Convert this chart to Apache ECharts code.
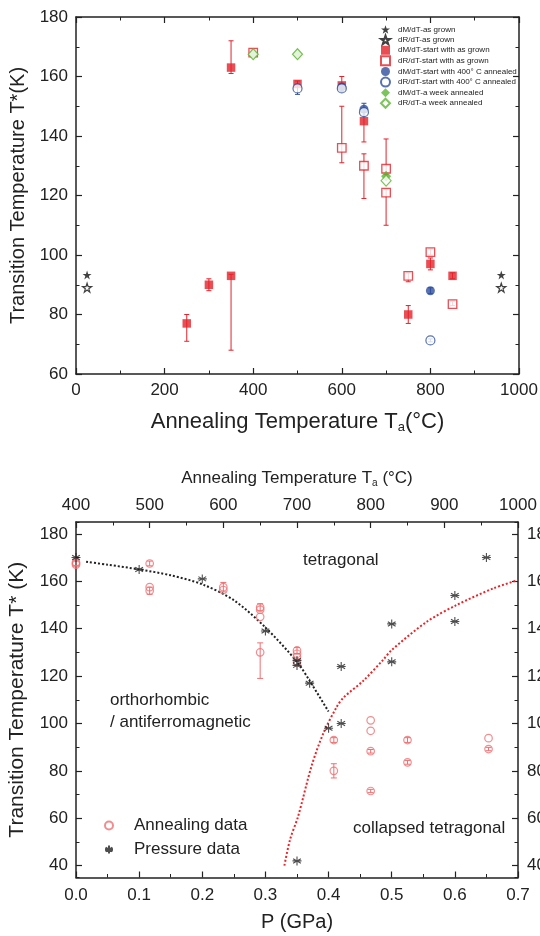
<!DOCTYPE html>
<html>
<head>
<meta charset="utf-8">
<script src="https://cdn.jsdelivr.net/npm/echarts@6/dist/echarts.min.js"></script>
<style>
  html, body { margin: 0; padding: 0; background: #fff; }
  #chart { width: 540px; height: 936px; }
</style>
</head>
<body>
<div id="chart"></div>
<script>
// ---------- Upper panel: transition temperature vs annealing temperature ----------
// points: [Ta (°C), T* (K)] ; with error bars: [Ta, T*, low, high]
const asGrownM = [[25, 93.3], [960, 93.3]];
const asGrownR = [[25, 89], [960, 89]];
const startAsGrownM = [
  [250, 77, 71, 80], [300, 90, 88, 92], [350, 93, 68, 93.5], [350, 163, 161, 172],
  [500, 157.5, 157, 158.5], [600, 157, 155, 160], [650, 145, 138, 148],
  [750, 80, 77, 83], [800, 97, 95, 99], [850, 93, 92, 94]
];
const startAsGrownR = [
  [400, 168, 167, 169], [600, 136, 131, 150], [650, 130, 119, 134],
  [700, 129, 127, 139], [700, 121, 110, 122], [750, 93, 91, 94],
  [800, 101, 100, 102], [850, 83.5, 83, 84.5]
];
const ann400M = [[600, 156.5, 155.5, 157.5], [650, 149, 148, 151], [800, 88, 87, 89]];
const ann400R = [[500, 156, 154, 157], [600, 156, 155, 157], [650, 148, 147, 149], [800, 71.3, 70.8, 71.8]];
const weekM = [[400, 167.5], [500, 167.5], [700, 126.5]];
const weekR = [[400, 167.5], [500, 167.5], [700, 125]];

const upperNames = [
  'dM/dT-as grown', 'dR/dT-as grown',
  'dM/dT-start with as grown', 'dR/dT-start with as grown',
  'dM/dT-start with 400° C annealed', 'dR/dT-start with 400° C annealed',
  'dM/dT-a week annealed', 'dR/dT-a week annealed'
];

// ---------- Lower panel: phase diagram ----------
// annealing data on the Ta (top) axis: [Ta, T*] or [Ta, T*, low, high]
const annealingData = [
  [400, 168, 166.5, 169], [400, 167.5], [400, 167],
  [500, 167.5, 166.5, 168.5], [500, 157.5], [500, 156, 154.5, 157.5],
  [600, 157.5, 155.5, 159.5], [600, 156.3],
  [650, 149, 147.5, 150.5], [650, 148], [650, 145], [650, 130, 119, 134],
  [700, 130.8, 129.5, 132], [700, 129.4], [700, 128], [700, 125.8],
  [750, 93, 92, 94], [750, 80, 77, 83],
  [800, 101.3], [800, 96.9], [800, 88.3, 87.5, 89], [800, 71.5, 70.8, 72.2],
  [850, 93, 92, 94], [850, 83.6, 82.8, 84.4],
  [960, 93.8], [960, 89.2, 88.5, 89.9]
];
// pressure data on the P (bottom) axis: [P (GPa), T* (K)]
const pressureData = [
  [0, 170], [0.1, 165], [0.2, 161], [0.3, 139], [0.35, 126.6], [0.35, 124.5],
  [0.35, 42], [0.37, 117], [0.4, 98], [0.42, 124], [0.42, 100],
  [0.5, 142], [0.5, 126], [0.6, 154], [0.6, 143], [0.65, 170]
];
// phase boundaries
const orthoBoundary = [
  [0.016, 168.2], [0.05, 167], [0.1, 165], [0.15, 162.5], [0.2, 158.7],
  [0.25, 152], [0.3, 140.5], [0.35, 126], [0.37, 118], [0.4, 105]
];
const collapsedBoundary = [
  [0.33, 40], [0.339, 51], [0.352, 61], [0.373, 82], [0.392, 96], [0.413, 107],
  [0.424, 111], [0.455, 118], [0.487, 127], [0.5, 131], [0.556, 143],
  [0.603, 150], [0.661, 157], [0.7, 160.5]
];

// tick ranges
const upperX = { min: 0, max: 1000, step: 200 };
const upperY = { min: 60, max: 180, step: 20 };
const lowerP = { min: 0, max: 0.7, step: 0.1 };
const lowerTa = { min: 400, max: 1000, step: 100 };
const lowerY = { min: 35, max: 185, step: 20 };

const FONT = '"Liberation Sans", Arial, sans-serif';
const INK = '#222';
const RED = '#e3222b';
const BLUE = '#2d4d9e';
const GREEN = '#5bb533';
const PINK = '#ef6f72';

const STAR = 'path://M50,0 L61.8,35.1 L98.1,35.1 L68.8,56.7 L79.4,91.6 L50,70 L20.6,91.6 L31.2,56.7 L1.9,35.1 L38.2,35.1 Z';
const ASTERISK = 'path://M5,0 L5,10 M0.7,2.5 L9.3,7.5 M0.7,7.5 L9.3,2.5 M0,5 L10,5';

const plain = v => String(v);

function errorBars(data, color, xi, yi, cap) {
  return {
    type: 'custom', xAxisIndex: xi, yAxisIndex: yi, silent: true, z: 1,
    data: data.filter(d => d.length > 2).map(d => [d[0], d[2], d[3]]),
    encode: { x: 0, y: [1, 2] },
    renderItem(params, api) {
      const lo = api.coord([api.value(0), api.value(1)]);
      const hi = api.coord([api.value(0), api.value(2)]);
      const st = { stroke: color, lineWidth: 1 };
      return {
        type: 'group', children: [
          { type: 'line', shape: { x1: lo[0], y1: lo[1], x2: hi[0], y2: hi[1] }, style: st },
          { type: 'line', shape: { x1: lo[0] - cap, y1: lo[1], x2: lo[0] + cap, y2: lo[1] }, style: st },
          { type: 'line', shape: { x1: hi[0] - cap, y1: hi[1], x2: hi[0] + cap, y2: hi[1] }, style: st }
        ]
      };
    }
  };
}

function scatter(name, data, xi, yi, symbol, size, style, z) {
  return {
    type: 'scatter', name, xAxisIndex: xi, yAxisIndex: yi,
    data: data.map(d => [d[0], d[1]]),
    symbol, symbolSize: size, itemStyle: style, z: z || 3, silent: true
  };
}

function valueAxis(extra) {
  return Object.assign({
    type: 'value',
    axisLine: { show: true, onZero: false, lineStyle: { color: INK, width: 1.5 } },
    axisTick: { show: true, inside: true, length: 6, lineStyle: { color: INK, width: 1.2 } },
    minorTick: { show: true, splitNumber: 2, length: 3.5, lineStyle: { color: INK, width: 1 } },
    splitLine: { show: false },
    axisLabel: { show: true, color: INK, fontSize: 17, fontFamily: FONT, margin: 8, formatter: plain },
    nameTextStyle: { color: INK, fontFamily: FONT }
  }, extra);
}

const chart = echarts.init(document.getElementById('chart'), null, { renderer: 'canvas' });

const option = {
  backgroundColor: '#fff',
  animation: false,
  textStyle: { fontFamily: FONT },
  grid: [
    { left: 76, right: 21, top: 17, height: 357, outerBoundsMode: 'none', containLabel: false },
    { left: 76, right: 22, top: 522, height: 355.5, outerBoundsMode: 'none', containLabel: false }
  ],
  xAxis: [
    valueAxis({
      gridIndex: 0, position: 'bottom', min: upperX.min, max: upperX.max, interval: upperX.step,
      name: '{m|Annealing Temperature T}{s|a}{m|(°C)}', nameLocation: 'middle', nameGap: 36,
      nameTextStyle: { rich: {
        m: { fontSize: 22, color: INK, fontFamily: FONT },
        s: { fontSize: 13, color: INK, fontFamily: FONT, padding: [11, 0, 0, 0] }
      } }
    }),
    valueAxis({
      gridIndex: 0, position: 'top', min: upperX.min, max: upperX.max, interval: upperX.step,
      axisLabel: { show: false }
    }),
    valueAxis({
      gridIndex: 1, position: 'bottom', min: lowerP.min, max: lowerP.max, interval: lowerP.step,
      axisLabel: { show: true, color: INK, fontSize: 17, fontFamily: FONT, margin: 9,
        formatter: v => v.toFixed(1) },
      name: 'P (GPa)', nameLocation: 'middle', nameGap: 35,
      nameTextStyle: { fontSize: 20, color: INK, fontFamily: FONT }
    }),
    valueAxis({
      gridIndex: 1, position: 'top', min: lowerTa.min, max: lowerTa.max, interval: lowerTa.step,
      axisLabel: { show: true, color: INK, fontSize: 17, fontFamily: FONT, margin: 8, formatter: plain },
      name: '{m|Annealing Temperature T}{s|a}{m| (°C)}', nameLocation: 'middle', nameGap: 34,
      nameTextStyle: { rich: {
        m: { fontSize: 17, color: INK, fontFamily: FONT },
        s: { fontSize: 10, color: INK, fontFamily: FONT, padding: [9, 0, 0, 0] }
      } }
    })
  ],
  yAxis: [
    valueAxis({
      gridIndex: 0, position: 'left', min: upperY.min, max: upperY.max, interval: upperY.step,
      name: 'Transition Temperature T*(K)', nameLocation: 'middle', nameGap: 46,
      nameTextStyle: { fontSize: 20, color: INK, fontFamily: FONT }
    }),
    valueAxis({
      gridIndex: 0, position: 'right', min: upperY.min, max: upperY.max, interval: upperY.step,
      axisLabel: { show: false }
    }),
    valueAxis({
      gridIndex: 1, position: 'left', min: lowerY.min, max: lowerY.max,
      minInterval: lowerY.step, maxInterval: lowerY.step, splitNumber: 7,
      minorTick: { show: false },
      axisLabel: { show: true, color: INK, fontSize: 17, fontFamily: FONT, margin: 8,
        showMinLabel: false, showMaxLabel: false, formatter: plain },
      name: 'Transition Temperature T* (K)', nameLocation: 'middle', nameGap: 48,
      nameTextStyle: { fontSize: 21, color: INK, fontFamily: FONT }
    }),
    valueAxis({
      gridIndex: 1, position: 'right', min: lowerY.min, max: lowerY.max,
      minInterval: lowerY.step, maxInterval: lowerY.step, splitNumber: 7,
      minorTick: { show: false },
      axisLabel: { show: true, color: INK, fontSize: 17, fontFamily: FONT, margin: 9,
        showMinLabel: false, showMaxLabel: false, formatter: plain }
    }),
    // half-step ticks on the lower panel's left and right edges
    valueAxis({
      gridIndex: 1, position: 'left', min: lowerY.min, max: lowerY.max,
      minInterval: lowerY.step / 2, maxInterval: lowerY.step / 2, splitNumber: 15,
      axisLine: { show: false }, axisLabel: { show: false }, minorTick: { show: false },
      axisTick: { show: true, inside: true, length: 3.5, lineStyle: { color: INK, width: 1 } }
    }),
    valueAxis({
      gridIndex: 1, position: 'right', min: lowerY.min, max: lowerY.max,
      minInterval: lowerY.step / 2, maxInterval: lowerY.step / 2, splitNumber: 15,
      axisLine: { show: false }, axisLabel: { show: false }, minorTick: { show: false },
      axisTick: { show: true, inside: true, length: 3.5, lineStyle: { color: INK, width: 1 } }
    })
  ],
  legend: [
    {
      left: 375, top: 20, orient: 'vertical', itemWidth: 9, itemHeight: 9, itemGap: 0.6,
      textStyle: { fontSize: 8, color: INK, fontFamily: FONT, lineHeight: 9, padding: [0, 0, 0, 3] },
      data: upperNames, selectedMode: false
    },
    {
      left: 99, top: 811, orient: 'vertical', itemWidth: 8, itemHeight: 8, itemGap: 5,
      textStyle: { fontSize: 17, color: INK, fontFamily: FONT, lineHeight: 19, padding: [0, 0, 0, 16] },
      data: ['Annealing data', 'Pressure data'], selectedMode: false
    }
  ],
  graphic: [
    { type: 'text', left: 303, top: 552, style: { text: 'tetragonal', fontSize: 17, fontFamily: FONT, fill: INK } },
    { type: 'text', left: 110, top: 690, style: { text: 'orthorhombic\n/ antiferromagnetic', fontSize: 17, lineHeight: 21.5, fontFamily: FONT, fill: INK } },
    { type: 'text', left: 353, top: 820, style: { text: 'collapsed tetragonal', fontSize: 17, fontFamily: FONT, fill: INK } }
  ],
  series: [
    // upper panel error bars
    errorBars(startAsGrownM, RED, 0, 0, 2.5),
    errorBars(startAsGrownR, RED, 0, 0, 2.5),
    errorBars(ann400M, BLUE, 0, 0, 2.5),
    errorBars(ann400R, BLUE, 0, 0, 2.5),
    // upper panel markers
    scatter(upperNames[0], asGrownM, 0, 0, STAR, 9, { color: '#111' }),
    scatter(upperNames[1], asGrownR, 0, 0, STAR, 9, { color: '#fff', borderColor: '#111', borderWidth: 1.2 }),
    scatter(upperNames[2], startAsGrownM, 0, 0, 'rect', 8.5, { color: RED }),
    scatter(upperNames[3], startAsGrownR, 0, 0, 'rect', 8.5, { color: '#fff', borderColor: RED, borderWidth: 1.3 }),
    scatter(upperNames[4], ann400M, 0, 0, 'circle', 9, { color: BLUE }),
    scatter(upperNames[5], ann400R, 0, 0, 'circle', 9, { color: '#fff', borderColor: BLUE, borderWidth: 1.2 }),
    scatter(upperNames[6], weekM, 0, 0, 'diamond', [10, 11], { color: GREEN }),
    scatter(upperNames[7], weekR, 0, 0, 'diamond', [10, 11], { color: '#fff', borderColor: GREEN, borderWidth: 1.2 }),

    // lower panel phase boundaries
    {
      type: 'line', xAxisIndex: 2, yAxisIndex: 2, data: orthoBoundary, smooth: 0.3,
      showSymbol: false, silent: true, z: 2,
      lineStyle: { color: '#222', width: 2, type: [2, 2] }
    },
    {
      type: 'line', xAxisIndex: 2, yAxisIndex: 2, data: collapsedBoundary, smooth: 0.3,
      showSymbol: false, silent: true, z: 2,
      lineStyle: { color: '#e8262a', width: 2, type: [2, 2] }
    },
    // lower panel data
    errorBars(annealingData, PINK, 3, 2, 3),
    scatter('Annealing data', annealingData, 3, 2, 'circle', 7.5,
      { color: 'rgba(255,255,255,0)', borderColor: PINK, borderWidth: 1.2 }),
    scatter('Pressure data', pressureData, 2, 2, ASTERISK, 9,
      { color: '#222', borderColor: '#222', borderWidth: 1.1 })
  ]
};

chart.setOption(option);
</script>
</body>
</html>
